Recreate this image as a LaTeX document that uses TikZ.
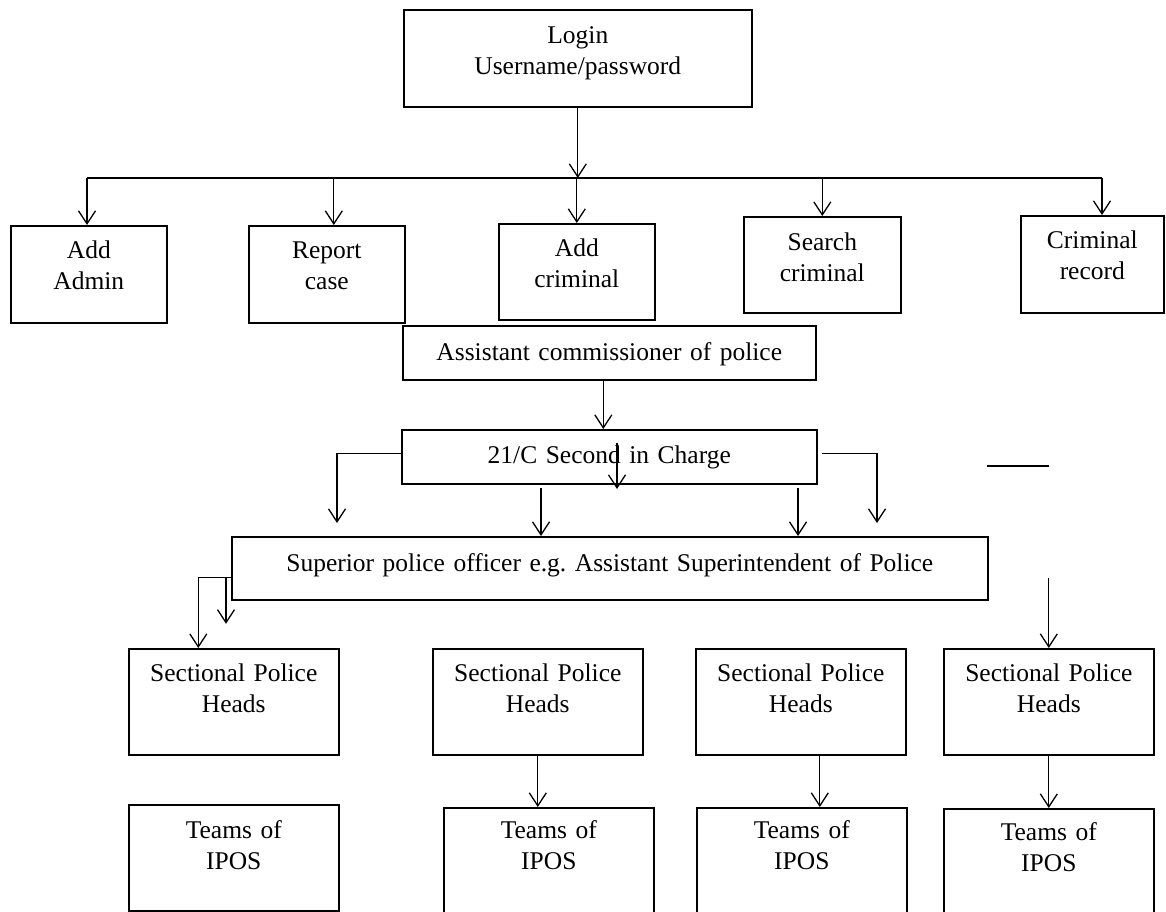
\documentclass[tikz,border=0pt]{standalone}
\usepackage{fontspec}
\setmainfont{Liberation Serif}
\usetikzlibrary{arrows.meta,calc}
\frenchspacing

\begin{document}
\begin{tikzpicture}[x=0.5pt, y=-0.5pt, >={Straight Barb[length=6.5pt,width=8.5pt]},
  orgbox/.style n args={3}{draw, line width=0.8pt, inner sep=0pt, anchor=north west,
    align=center, text width=#1, text height=#2, text depth=#3,
    font=\fontsize{12.75pt}{15.5pt}\selectfont},
  arr/.style={->, line width=0.65pt},
  link/.style={line width=0.65pt}]

% Page frame
\useasboundingbox (0,0) rectangle (1166,911);
\clip (0,0) rectangle (1166,911);

% Login
\node[orgbox={174pt}{17pt}{31.5pt}] (login) at (403,9) {Login\\Username/password};

% Menu row
\node[orgbox={78pt}{16.5pt}{32pt}] (admin) at (10,225) {Add\\Admin};
\node[orgbox={78pt}{16.5pt}{32pt}] (report) at (248,225) {Report\\case};
\node[orgbox={78pt}{16.5pt}{31.5pt}] (addcrim) at (498,223) {Add\\criminal};
\node[orgbox={78.5pt}{17pt}{31pt}] (search) at (743,216) {Search\\criminal};
\node[orgbox={71.5pt}{16.5pt}{32pt}] (record) at (1020,215) {Criminal\\record};

% Bus from login to menu
\coordinate (busL) at (87,178);
\coordinate (busR) at (1102,178);
\draw[arr] (login.south) -- (login.south |- busL);
\draw[link] (busL) -- (busR);
\draw[arr] (busL) -- (busL |- admin.north);
\coordinate (reportin) at ($(report.north)+(7,0)$);
\draw[arr] (reportin |- busL) -- (reportin);
\draw[arr] (addcrim.north |- busL) -- (addcrim.north);
\draw[arr] (search.north |- busL) -- (search.north);
\draw[arr] (busR) -- (busR |- record.north);

% Command chain
\node[orgbox={206.5pt}{17.5pt}{9.5pt}] (acp) at (402,325) {Assistant commissioner of police};
\node[orgbox={207.5pt}{17pt}{10pt}] (sic) at (401,429) {21/C Second in Charge};
\node[orgbox={378pt}{17.5pt}{14pt}] (sup) at (231,536) {Superior police officer e.g. Assistant Superintendent of Police};

\draw[arr] ([xshift=-3pt]acp.south) -- ([xshift=-3pt]acp.south |- sic.north);

% Arrows around 21/C
\coordinate (sicL) at (337,523);
\coordinate (sicR) at (877,523);
\draw[arr] ([yshift=1.5pt]sic.west) -| (sicL);
\draw[arr] ([shift={(2pt,1.5pt)}]sic.east) -| (sicR);
\coordinate (midtop) at (617,443);
\draw[arr] (midtop) -- ++(0,46);
\coordinate (dropA) at (541,488);
\coordinate (dropB) at (798,488);
\draw[arr] (dropA) -- (dropA |- sup.north);
\draw[arr] (dropB) -- (dropB |- sup.north);
\coordinate (dashA) at (987,466);
\draw[link] (dashA) -- ++(62,0);

% Sectional heads and teams
\foreach \i/\x in {1/128,2/432,3/695,4/943}
  \node[orgbox={105pt}{16.5pt}{36.5pt}] (sph\i) at (\x,648) {Sectional Police\\Heads};

\foreach \i/\x/\y/\h/\d in {1/128/804/17pt/36pt, 2/443/807/15.5pt/43.5pt,
                            3/696/807/15.5pt/43.5pt, 4/943/808/16pt/42.5pt}
  \node[orgbox={105pt}{\h}{\d}] (tip\i) at (\x,\y) {Teams of\\IPOS};

% Superior outputs
\coordinate (supL) at ([yshift=-4.75pt]sup.west);
\draw[arr] (supL) -| ([xshift=-17.75pt]sph1.north);
\draw[arr] ([xshift=-2.5pt]supL) -- ++(0,46);
\draw[arr] (sph4.north |- supL) -- (sph4.north);

% Heads to teams
\draw[arr] (sph2.south) -- (sph2.south |- tip2.north);
\draw[arr] ([xshift=9.5pt]sph3.south) -- ([xshift=9.5pt]sph3.south |- tip3.north);
\draw[arr] (sph4.south) -- (sph4.south |- tip4.north);
\end{tikzpicture}
\end{document}
